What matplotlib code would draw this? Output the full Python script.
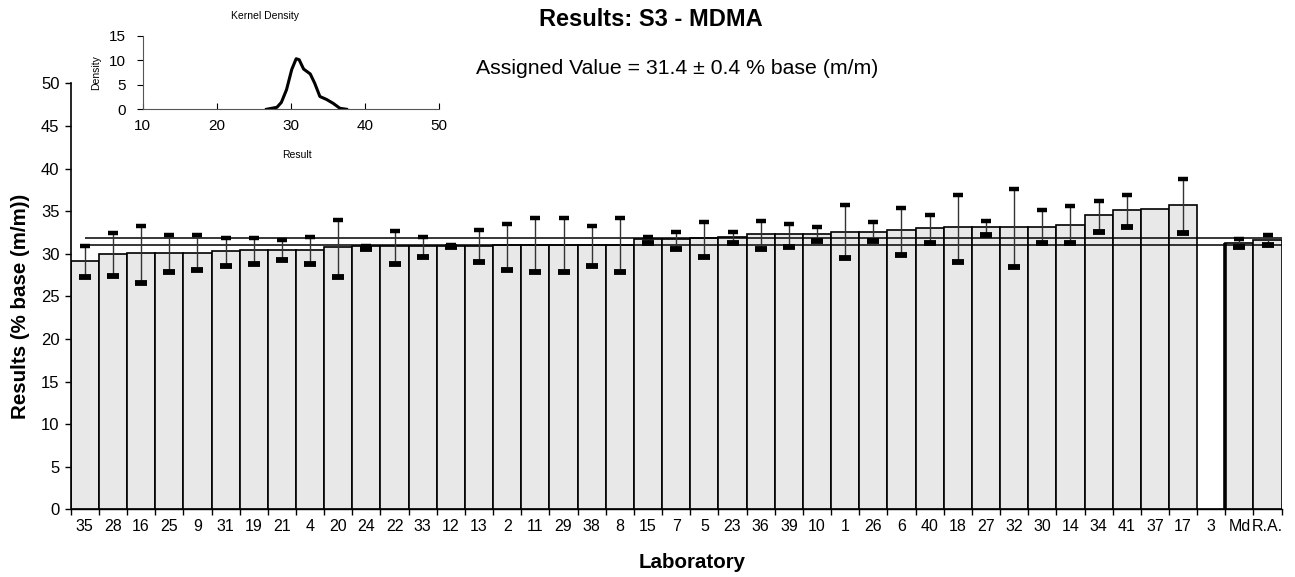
import matplotlib.pyplot as plt
import numpy as np

# laboratories in plotted order (sorted by result), then median and robust average
labs = ['35', '28', '16', '25', '9', '31', '19', '21', '4', '20',
        '24', '22', '33', '12', '13', '2', '11', '29', '38', '8',
        '15', '7', '5', '23', '36', '39', '10', '1', '26', '6',
        '40', '18', '27', '32', '30', '14', '34', '41', '37', '17',
        '3', 'Md', 'R.A.']

results = [29.1, 30.0, 30.1, 30.1, 30.1, 30.35, 30.4, 30.4, 30.4, 30.8,
           30.85, 30.9, 30.9, 30.95, 30.95, 31.0, 31.0, 31.0, 31.0, 31.0,
           31.7, 31.7, 31.9, 31.95, 32.3, 32.3, 32.3, 32.6, 32.6, 32.8,
           33.0, 33.1, 33.1, 33.1, 33.1, 33.4, 34.5, 35.1, 35.3, 35.7,
           None, 31.3, 31.6]

err_high = [30.9, 32.4, 33.3, 32.2, 32.2, 31.8, 31.8, 31.6, 32.0, 33.9,
            30.95, 32.7, 32.0, 31.0, 32.8, 33.5, 34.2, 34.2, 33.2, 34.2,
            32.0, 32.6, 33.7, 32.5, 33.8, 33.5, 33.1, 35.7, 33.7, 35.4,
            34.5, 36.9, 33.85, 37.6, 35.1, 35.6, 36.2, 36.9, None, 38.8,
            None, 31.7, 32.2]

err_low = [27.3, 27.4, 26.6, 27.9, 28.1, 28.6, 28.8, 29.3, 28.8, 27.3,
           30.6, 28.8, 29.6, 30.8, 29.0, 28.1, 27.8, 27.8, 28.55, 27.8,
           31.2, 30.55, 29.6, 31.2, 30.55, 30.8, 31.5, 29.5, 31.5, 29.9,
           31.25, 29.0, 32.15, 28.4, 31.2, 31.2, 32.6, 33.1, None, 32.4,
           None, 30.75, 31.0]

# assigned value limits (31.4 +/- 0.4)
limits = [31.0, 31.9]

# kernel density curve
kd_x = [26.7, 28.1, 28.7, 29.4, 30.1, 30.7, 31.1, 31.7, 32.6, 33.2, 33.9, 34.8, 35.7, 36.6, 37.5]
kd_y = [0.0, 0.4, 1.4, 4.0, 8.1, 10.3, 10.1, 8.2, 7.2, 5.3, 2.6, 2.0, 1.2, 0.2, 0.0]

res = np.array(results, dtype=float)
hi = np.array(err_high, dtype=float)
lo = np.array(err_low, dtype=float)
x = np.arange(len(labs))

plt.rcParams['font.family'] = ['Liberation Sans', 'DejaVu Sans']

fig = plt.figure(figsize=(12.95, 5.77), dpi=100)
ax = fig.add_axes([0.0546, 0.1173, 0.9351, 0.7383])

ax.bar(x, np.nan_to_num(res), width=1.0, color='#e8e8e8', edgecolor='black', linewidth=1.2, zorder=2)
# thick separator before the summary bars
ax.vlines(labs.index('Md') - 0.5, 0, res[labs.index('Md')], color='black', lw=2.6, zorder=3)

ax.hlines(limits, 0, len(labs) - 0.5, color='black', lw=1.1, zorder=4)

ax.vlines(x, lo, hi, color='#333333', lw=1.0, zorder=5)
ax.plot(x, hi, ls='none', marker='_', ms=7, mew=3.2, color='black', zorder=6)
ax.plot(x, lo, ls='none', marker='_', ms=9, mew=4.2, color='black', zorder=6)

ax.set_xlim(-0.5, len(labs) - 0.5)
ax.set_ylim(0, 50)
ax.set_yticks(np.arange(0, 51, 5))
ax.set_xticks(np.arange(len(labs) + 1) - 0.5)
ax.set_xticklabels([])
ax.set_xticks(x, minor=True)
ax.set_xticklabels(labs, minor=True, fontsize=11.5)
ax.tick_params(axis='x', which='minor', length=0, pad=7)
ax.tick_params(axis='x', which='major', length=4, width=1)
ax.tick_params(axis='y', labelsize=12, length=4, width=1, pad=4)

for s in ['top', 'right']:
    ax.spines[s].set_visible(False)
ax.spines['left'].set_linewidth(1.2)
ax.spines['bottom'].set_linewidth(1.0)

ax.set_ylabel('Results (% base (m/m))', fontsize=14.8, fontweight='bold')
ax.yaxis.set_label_coords(-0.0336, 0.477)
ax.set_xlabel('Laboratory', fontsize=14.8, fontweight='bold')
ax.xaxis.set_label_coords(0.513, -0.103)

fig.text(651 / 1295, 1 - 19 / 577, 'Results: S3 - MDMA', fontsize=17, fontweight='bold', ha='center', va='center')
fig.text(677 / 1295, 1 - 68 / 577, 'Assigned Value = 31.4 \u00b1 0.4 % base (m/m)', fontsize=15.3, ha='center', va='center')

# inset: kernel density of results
ins = fig.add_axes([0.1102, 0.8106, 0.2290, 0.1276])
ins.patch.set_alpha(0)
ins.plot(kd_x, kd_y, color='black', lw=2.2)
ins.set_xlim(10, 50)
ins.set_ylim(0, 15)
ins.set_xticks([10, 20, 30, 40, 50])
ins.set_yticks([0, 5, 10, 15])
ins.tick_params(labelsize=11, length=4, width=0.8)
ins.tick_params(axis='x', direction='in', pad=7)
ins.tick_params(axis='y', pad=8)
for s in ['top', 'right']:
    ins.spines[s].set_visible(False)
for s in ['left', 'bottom']:
    ins.spines[s].set_color('#555555')
ins.set_title('Kernel Density', fontsize=7.5, pad=12, x=0.412)
ins.set_xlabel('Result', fontsize=7.5, labelpad=14)
ins.xaxis.set_label_coords(0.519, -0.55)
ins.set_ylabel('Density', fontsize=7.5, labelpad=6)

fig.savefig('out.png', dpi=100)
